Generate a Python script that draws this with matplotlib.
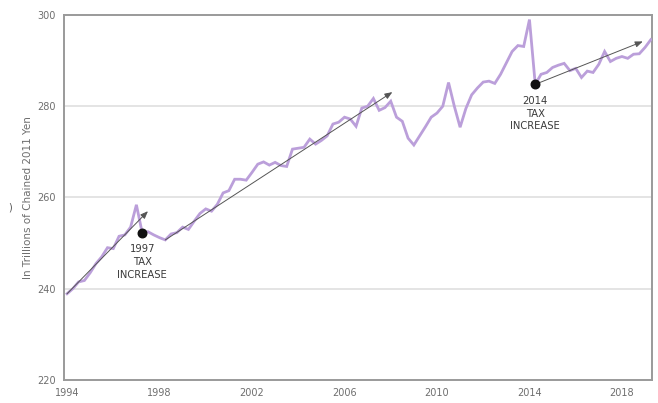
import numpy as np
import matplotlib
matplotlib.use("Agg")
import matplotlib.pyplot as plt

# Quarterly real private consumption, 1994Q1 onwards (trillions of chained 2011 yen)
start_year = 1994
consumption = [
    238.9, 240.0, 241.5, 241.8, 243.5, 245.5, 247.0, 249.0, 248.8, 251.5,
    251.8, 253.5, 258.4, 252.3, 252.5, 251.8, 251.2, 250.7, 252.0, 252.3,
    253.5, 253.0, 254.8, 256.5, 257.5, 257.0, 258.5, 261.0, 261.5, 264.0,
    264.0, 263.8, 265.5, 267.3, 267.8, 267.1, 267.7, 267.0, 266.8, 270.6,
    270.8, 271.0, 272.8, 271.7, 272.5, 273.5, 276.1, 276.5, 277.6, 277.2,
    275.6, 279.6, 280.0, 281.7, 279.1, 279.7, 281.1, 277.6, 276.7, 273.0,
    271.5, 273.5, 275.5, 277.6, 278.5, 280.0, 285.2, 280.0, 275.4, 279.5,
    282.5, 284.0, 285.3, 285.5, 285.0, 287.0, 289.5, 292.0, 293.3, 293.1,
    299.0, 284.8, 287.0, 287.4, 288.5, 289.0, 289.4, 287.8, 288.3, 286.3,
    287.7, 287.4, 289.2, 292.0, 289.8, 290.5, 290.9, 290.5, 291.4, 291.5,
    292.9, 294.6,
]

x_ticks = [1994, 1998, 2002, 2006, 2010, 2014, 2018]
y_ticks = [220, 240, 260, 280, 300]

# Tax increases: quarter index of the post-hike drop and label text
tax_labels = ["1997\nTAX\nINCREASE", "2014\nTAX\nINCREASE"]
tax_index = [13, 81]

# Trend arrows: start quarter index, end (year, value)
trend_start_index = [0, 17, 81]
trend_end_year = [1997.5, 2008.07, 2018.9]
trend_end_value = [257.0, 283.1, 294.2]

years = start_year + np.arange(len(consumption)) / 4.0
values = np.array(consumption)

LINE = "#bb9fda"
GRID = "#dcdcdc"
SPINE = "#9a9a9a"
TEXT = "#6e6e6e"

fig = plt.figure(figsize=(6.58, 4.03), dpi=100)
ax = fig.add_axes([0.0973, 0.0571, 0.8936, 0.9057])

ax.plot(years, values, color=LINE, lw=2.0, solid_joinstyle="miter", zorder=3)

for i0, xe, ye in zip(trend_start_index, trend_end_year, trend_end_value):
    ax.annotate("", xy=(xe, ye), xytext=(years[i0], values[i0]),
                arrowprops=dict(arrowstyle="-|>,head_length=0.45,head_width=0.18",
                                color="#555555", lw=0.7, shrinkA=0, shrinkB=0),
                zorder=4)

for label, idx in zip(tax_labels, tax_index):
    ax.scatter([years[idx]], [values[idx]], s=38, color="#111111", zorder=5)
    ax.text(years[idx], values[idx] - 2.5, label, ha="center", va="top",
            fontsize=7.2, color="#3a3a3a", linespacing=1.35, zorder=5)

ax.set_xlim(1993.87, 2019.3)
ax.set_ylim(220, 300)
ax.set_xticks(x_ticks)
ax.set_yticks(y_ticks)
ax.tick_params(length=0, labelsize=7, labelcolor=TEXT, pad=6)
ax.grid(axis="y", color=GRID, lw=1.1, zorder=0)
for side in ax.spines.values():
    side.set_color(SPINE)
    side.set_linewidth(1.4)

ax.set_ylabel("In Trillions of Chained 2011 Yen", fontsize=7.5, color=TEXT, labelpad=3)
fig.text(0.015, 0.484, ")", fontsize=7, color="#555555", ha="center", va="center")

fig.savefig("out.png", dpi=100)
